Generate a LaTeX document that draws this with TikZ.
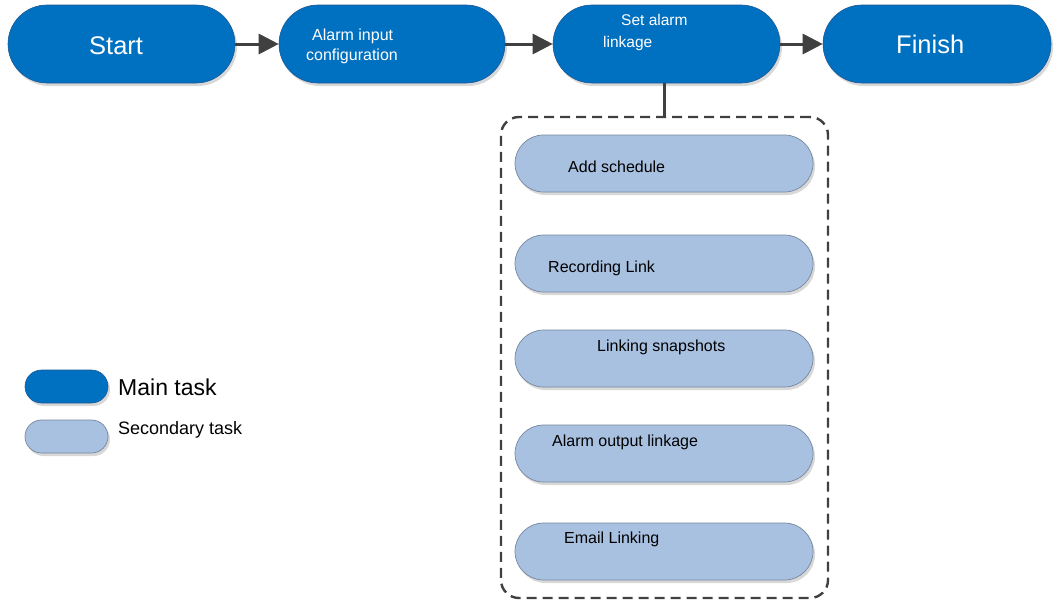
\documentclass[tikz,border=0pt]{standalone}
\usepackage{fontspec}
\setmainfont{Liberation Sans}
\usetikzlibrary{arrows.meta,shadows}
\definecolor{mainblue}{RGB}{0,112,192}
\definecolor{mainborder}{RGB}{30,90,150}
\definecolor{secblue}{RGB}{168,193,225}
\definecolor{secborder}{RGB}{118,135,158}
\definecolor{darkline}{RGB}{64,64,64}
\tikzset{
  shad/.style={drop shadow={shadow xshift=2pt,shadow yshift=-3pt,opacity=0.25,fill=black!60}},
  mainbox/.style={shape=rectangle,draw=mainborder,line width=0.6pt,fill=mainblue,shad,
    minimum width=227pt,minimum height=78pt,rounded corners=39pt,inner sep=0pt},
  secbox/.style={shape=rectangle,draw=secborder,line width=0.7pt,fill=secblue,shad,
    minimum width=298pt,minimum height=57pt,rounded corners=28.5pt,inner sep=0pt},
  legmain/.style={shape=rectangle,draw=mainborder,line width=0.6pt,fill=mainblue,shad,
    minimum width=83pt,minimum height=33pt,rounded corners=16.5pt,inner sep=0pt},
  legsec/.style={shape=rectangle,draw=secborder,line width=0.7pt,fill=secblue,shad,
    minimum width=83pt,minimum height=33pt,rounded corners=16.5pt,inner sep=0pt},
  wtxt/.style={text=white,inner sep=0pt,anchor=base west},
  btxt/.style={text=black,inner sep=0pt,anchor=base west},
  flowarrow/.style={draw=darkline,line width=3pt,-{Triangle[length=20pt,width=20pt]}},
  groupbox/.style={shape=rectangle,draw=darkline,line width=2.4pt,dash pattern=on 10pt off 6pt,
    rounded corners=18pt,minimum width=327pt,minimum height=481pt,inner sep=0pt},
  linkline/.style={draw=darkline,line width=2.4pt}
}
\begin{document}
\begin{tikzpicture}[x=1pt,y=-1pt]
\useasboundingbox[fill=white] (0,0) rectangle (1056,603);
% main flow
\node[mainbox] (start) at (121.5,44) {};
\node[mainbox,minimum width=226pt] (alarm) at (392,44) {};
\node[mainbox] (setlink) at (666.5,44) {};
\node[mainbox,minimum width=228pt] (finish) at (937,44) {};
\node[wtxt,font=\fontsize{25.5}{30}\selectfont] (tstart) at (89,54) {Start};
\node[wtxt,font=\fontsize{16}{19}\selectfont] (talarm1) at (312,40) {Alarm input};
\node[wtxt,font=\fontsize{16}{19}\selectfont] (talarm2) at (306,60) {configuration};
\node[wtxt,font=\fontsize{15.5}{19}\selectfont] (tset1) at (621,25) {Set alarm};
\node[wtxt,font=\fontsize{15.5}{19}\selectfont] (tset2) at (603,47) {linkage};
\node[wtxt,font=\fontsize{25.5}{30}\selectfont] (tfinish) at (896,53) {Finish};
\draw[flowarrow] (start) -- (alarm);
\draw[flowarrow] (alarm) -- (setlink);
\draw[flowarrow] (setlink) -- (finish);
% group of secondary tasks
\node[groupbox] (group) at (664.5,357.5) {};
\draw[linkline] (group.north |- setlink.south) -- (group.north);
\node[secbox] (add) at (664,163.5) {};
\node[secbox] (rec) at (664,263.5) {};
\node[secbox] (snap) at (664,358.5) {};
\node[secbox] (out) at (664,453.5) {};
\node[secbox] (email) at (664,551.5) {};
\node[btxt,font=\fontsize{16}{19}\selectfont] (tadd) at (568,172) {Add schedule};
\node[btxt,font=\fontsize{16}{19}\selectfont] (trec) at (548,272) {Recording Link};
\node[btxt,font=\fontsize{16}{19}\selectfont] (tsnap) at (597,351) {Linking snapshots};
\node[btxt,font=\fontsize{16}{19}\selectfont] (tout) at (552,446) {Alarm output linkage};
\node[btxt,font=\fontsize{16}{19}\selectfont] (temail) at (564,543) {Email Linking};
% legend
\node[legmain] (lmain) at (66.5,386.5) {};
\node[legsec] (lsec) at (66.5,436.5) {};
\node[btxt,font=\fontsize{23}{27}\selectfont] (tlmain) at (118,395) {Main task};
\node[btxt,font=\fontsize{18}{21}\selectfont] (tlsec) at (118,434) {Secondary task};
\end{tikzpicture}
\end{document}
